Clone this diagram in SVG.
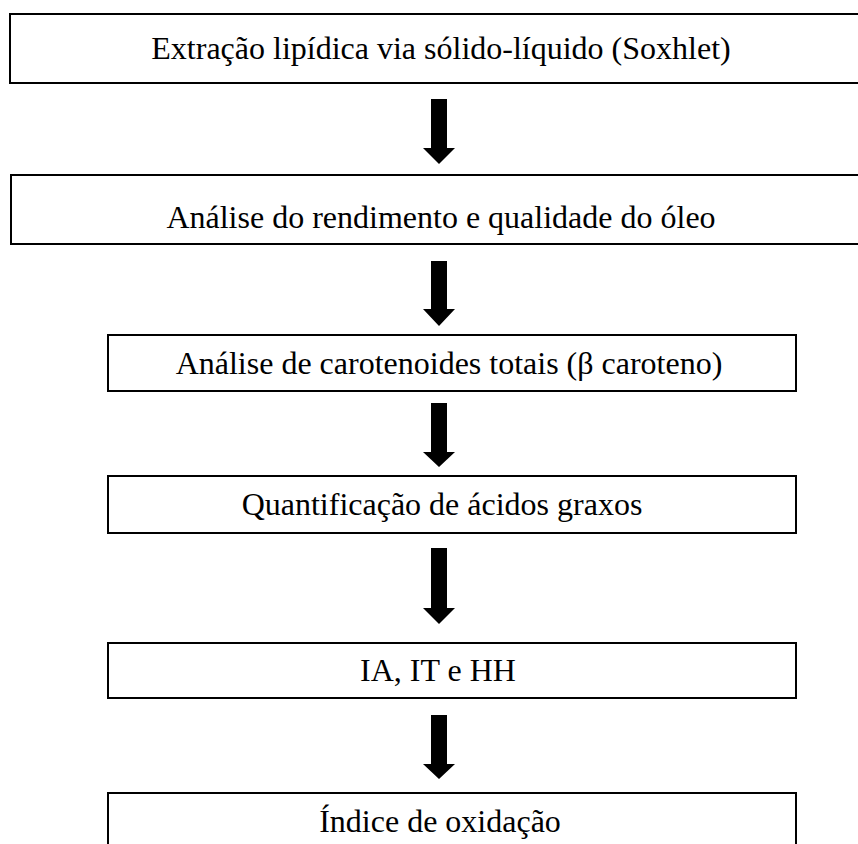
<svg xmlns="http://www.w3.org/2000/svg" width="858" height="844" viewBox="0 0 858 844">
<style>
.box{fill:#fff;stroke:#000;stroke-width:2}
.lbl{font-family:"Liberation Serif","Times New Roman",serif;font-size:32px;fill:#000;text-anchor:middle}
.arr{fill:#000}
</style>
<rect x="0" y="0" width="858" height="844" fill="#fff"/>
<g id="n1"><rect class="box" x="10" y="14" width="860" height="69"/><text class="lbl" x="441" y="59">Extração lipídica via sólido-líquido (Soxhlet)</text></g>
<g id="n2"><rect class="box" x="11" y="175" width="860" height="69"/><text class="lbl" x="441" y="228">Análise do rendimento e qualidade do óleo</text></g>
<g id="n3"><rect class="box" x="108" y="335" width="688" height="56"/><text class="lbl" x="449" y="374">Análise de carotenoides totais (β caroteno)</text></g>
<g id="n4"><rect class="box" x="108" y="476" width="688" height="57"/><text class="lbl" x="442" y="515">Quantificação de ácidos graxos</text></g>
<g id="n5"><rect class="box" x="108" y="643" width="688" height="55"/><text class="lbl" x="438" y="681">IA, IT e HH</text></g>
<g id="n6"><rect class="box" x="108" y="793" width="688" height="70"/><text class="lbl" x="440" y="832">Índice de oxidação</text></g>
<g id="connectors">
<polygon class="arr" points="431,99 447,99 447,148 455,148 439,164 423,148 431,148"/>
<polygon class="arr" points="431,261 447,261 447,309 455,309 439,326 423,309 431,309"/>
<polygon class="arr" points="431,403 447,403 447,452 455,452 439,467 423,452 431,452"/>
<polygon class="arr" points="431,548 447,548 447,608 455,608 439,624 423,608 431,608"/>
<polygon class="arr" points="431,715 447,715 447,764 455,764 439,779 423,764 431,764"/>
</g>
</svg>
